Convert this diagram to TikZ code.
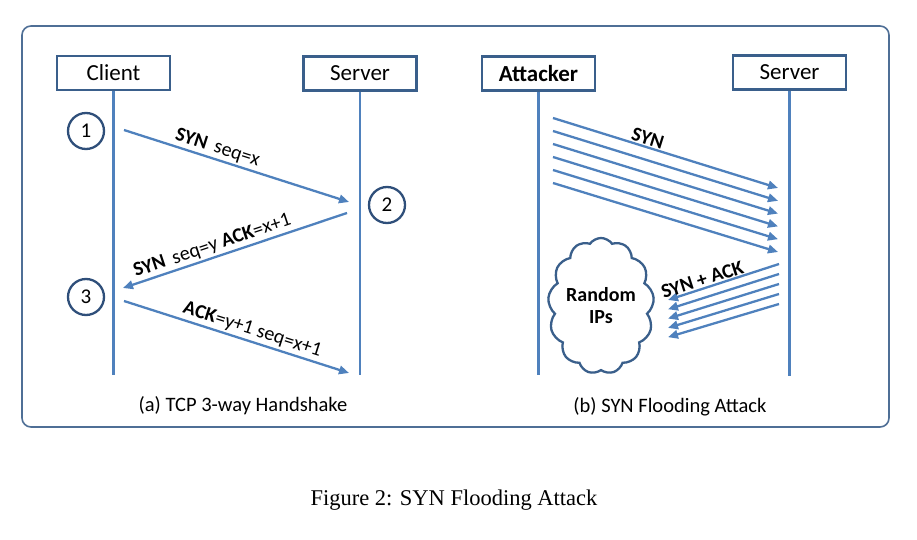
\documentclass[tikz,border=0pt]{standalone}
\usepackage{fontspec}
\setmainfont{Carlito}
\newfontfamily\capfont{Liberation Serif}
\usetikzlibrary{arrows.meta,shapes.symbols}
\definecolor{framec}{HTML}{4F6F96}
\definecolor{boxc}{HTML}{3A5F8B}
\definecolor{numc}{HTML}{2F4F7A}
\definecolor{msgc}{HTML}{4F81BD}
\tikzset{>={Triangle[length=10pt,width=8.5pt]}}
\tikzset{
    actor/.style={draw=boxc,line width=2.8pt,minimum width=113pt,minimum height=34pt,
        inner sep=0pt,font=\fontsize{23}{26}\selectfont},
    life/.style={draw=msgc,line width=2.6pt},
    msg/.style={draw=msgc,line width=2.3pt,->},
    stepnum/.style={circle,draw=numc,line width=2.3pt,minimum size=36pt,inner sep=0pt,
        font=\fontsize{21}{24}\selectfont},
    lbl/.style={sloped,above,inner sep=2pt,font=\fontsize{20}{23}\selectfont}
}

\begin{document}
\begin{tikzpicture}[x=1pt,y=-1pt]
    \useasboundingbox (0,0) rectangle (917,540);
    \draw[framec,line width=1.6pt,rounded corners=9pt] (22,26) rectangle (889,427);
    % (a) handshake
    \node[actor] (client) at (113.5,73) {Client};
    \node[actor] (server) at (360,73.5) {Server};
    \coordinate (clientend) at (113.5,375);
    \coordinate (serverend) at (360,375);
    \draw[life] (client.south) -- (clientend);
    \draw[life] (server.south) -- (serverend);
    \node[stepnum] (n1) at (86,131) {1};
    \node[stepnum] (n2) at (387,205) {2};
    \node[stepnum] (n3) at (86,297) {3};
    \coordinate (m1a) at (124,130);
    \coordinate (m1b) at (349,202);
    \coordinate (m2a) at (347,213);
    \coordinate (m2b) at (123,288);
    \coordinate (m3a) at (124,301);
    \coordinate (m3b) at (349,373);
    \draw[msg] (m1a) -- node[lbl,pos=0.4] (l1) {\textbf{SYN}\hspace{8pt}seq=x} (m1b);
    \draw[msg] (m2a) -- node[lbl,pos=0.585] (l2) {\textbf{SYN}\hspace{8pt}seq=y \textbf{ACK}=x+1} (m2b);
    \draw[msg] (m3a) -- node[lbl,pos=0.555] (l3) {\textbf{ACK}=y+1 seq=x+1} (m3b);
    \node[font=\fontsize{20.5}{24}\selectfont] (capa) at (243,406) {(a) TCP 3-way Handshake};
    % (b) flooding
    \node[actor,font=\bfseries\fontsize{23}{26}\selectfont] (attacker) at (538.5,73.5) {Attacker};
    \node[actor] (server2) at (789.5,72.5) {Server};
    \coordinate (attackerend) at (538.5,375);
    \coordinate (server2end) at (789.5,376);
    \draw[life] (attacker.south) -- (attackerend);
    \draw[life] (server2.south) -- (server2end);
    \foreach \i in {0,...,5} {
        \coordinate (fa\i) at (553,{118+13*\i});
        \coordinate (fb\i) at (778,{188+12.8*\i});
        \draw[msg] (fa\i) -- (fb\i);
    }
    \path (fa0) -- node[lbl,pos=0.41] (synlbl) {\textbf{SYN}} (fb0);
    \foreach \i in {0,...,4} {
        \coordinate (ra\i) at (779,{264+10*\i});
        \coordinate (rb\i) at (668,{300+9.3*\i});
        \draw[msg] (ra\i) -- (rb\i);
    }
    \path (ra0) -- node[lbl,pos=0.667] (acklbl) {\textbf{SYN + ACK}} (rb0);
    \node[cloud,draw=boxc,line width=2.3pt,cloud puffs=13,cloud puff arc=110,aspect=0.85,
        inner xsep=-2pt,inner ysep=-5pt,minimum width=106pt,minimum height=136pt,align=center,
        font=\bfseries\fontsize{20}{22}\selectfont] (ips) at (601,306) {Random\\IPs};
    \node[font=\fontsize{20.5}{24}\selectfont] (capb) at (670,407) {(b) SYN Flooding Attack};
    \node[font=\capfont\fontsize{22.5}{26}\selectfont] (fig) at (454,500) {Figure 2: SYN Flooding Attack};
\end{tikzpicture}
\end{document}
